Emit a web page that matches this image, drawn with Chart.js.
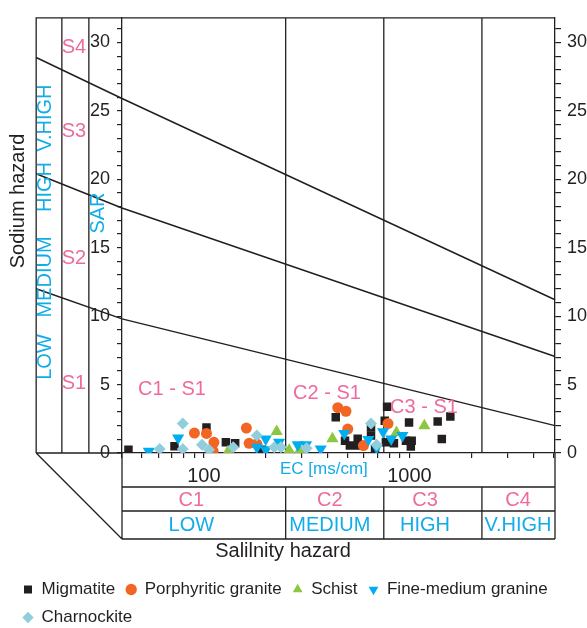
<!DOCTYPE html>
<html>
<head>
<meta charset="utf-8">
<script src="https://cdn.jsdelivr.net/npm/chart.js@4"></script>
<style>
  body { margin: 0; background: #fff; }
  #wrap { width: 587px; height: 628px; }
</style>
</head>
<body>
<div id="wrap"><canvas id="chart"></canvas></div>
<script>
const dark = "#231f20";
const pink = "#ee6b9e";
const cyan = "#12ade8";

// EC (x) and SAR (y)
const migmatiteEC = [43, 72, 103, 128, 142, 192, 438, 486, 513, 560, 563, 650, 650, 680, 758, 778, 768, 840, 961, 995, 1015, 1025, 1371, 1436, 1580];
const migmatiteSAR = [0.23, 0.5, 1.87, 0.78, 0.71, 0.23, 2.62, 0.9, 0.54, 1.05, 0.54, 1.27, 1.87, 0.3, 2.35, 3.38, 0.78, 0.71, 0.9, 2.23, 0.47, 0.9, 2.3, 1.03, 2.66];
const porphyriticEC = [90, 103, 112, 111, 161, 166, 181, 448, 491, 501, 597, 786];
const porphyriticSAR = [1.46, 1.43, 0.78, 0.13, 1.82, 0.71, 0.66, 3.31, 3.05, 1.75, 0.54, 2.15];
const schistEC = [131, 226, 260, 293, 422, 864, 1181];
const schistSAR = [0.1, 1.58, 0.2, 0.2, 1.05, 1.5, 1.99];
const fineEC = [54, 75, 181, 200, 200, 232, 286, 314, 370, 482, 631, 692, 744, 815, 924];
const fineSAR = [0.13, 1.1, 0.42, 1.03, 0.23, 0.78, 0.61, 0.61, 0.3, 1.43, 0.98, 0.4, 1.55, 1.03, 1.27];
const charnEC = [61, 79, 79, 98, 106, 139, 181, 220, 237, 316, 650, 692];
const charnSAR = [0.3, 2.15, 0.3, 0.61, 0.23, 0.42, 1.27, 0.42, 0.42, 0.35, 2.15, 0.61];

// sodium hazard boundary lines: panel edge, EC 40, EC 5100
const lineEC = [15.3, 40, 5100];
const s1s2 = [12.0, 9.8, 2.0];
const s2s3 = [20.4, 17.9, 7.05];
const s3s4 = [28.9, 25.9, 11.2];

// salinity class bounds and x ticks
const ecBounds = [250, 750, 2250];
const ecTicks = [40, 50, 60, 70, 80, 90, 100, 200, 300, 400, 500, 600, 700, 800, 900, 1000, 2000, 3000, 4000, 5000];
const salinityClass = ["C1", "C2", "C3", "C4"];
const salinityName = ["LOW", "MEDIUM", "HIGH", "V.HIGH"];
const salinityLabelEC = [87, 410, 1190, 3370];

const pts = (xs, ys) => xs.map((x, i) => ({ x: x, y: ys[i] }));

function pointSet(label, xs, ys, color, style, radius, order, rot) {
  return {
    label: label,
    data: pts(xs, ys),
    backgroundColor: color,
    borderColor: color,
    borderWidth: 0,
    pointStyle: style,
    pointRadius: radius,
    pointRotation: rot || 0,
    order: order,
  };
}

function boundary(ys) {
  return {
    label: "",
    data: pts(lineEC, ys),
    showLine: true,
    pointRadius: 0,
    borderColor: dark,
    borderWidth: 1.5,
    clip: false,
    order: 20,
  };
}

const decor = {
  id: "decor",
  beforeDatasetsDraw(chart) {
    const { ctx, chartArea: a, scales: { x } } = chart;
    const edge = x.getPixelForValue(lineEC[0]);
    const b = a.bottom;
    ctx.save();
    ctx.strokeStyle = dark;
    ctx.lineWidth = 1.3;
    ctx.beginPath();
    // outer frame and left panel
    ctx.moveTo(edge, b); ctx.lineTo(edge, a.top); ctx.lineTo(a.right, a.top);
    ctx.moveTo(edge, b); ctx.lineTo(a.left, b);
    [20.4, 27.6].forEach(v => {
      const px = x.getPixelForValue(v);
      ctx.moveTo(px, a.top); ctx.lineTo(px, b);
    });
    ctx.moveTo(edge, b); ctx.lineTo(a.left, b + 86);
    // class bounds
    ecBounds.forEach(v => {
      const px = x.getPixelForValue(v);
      ctx.moveTo(px, a.top); ctx.lineTo(px, b);
      ctx.moveTo(px, b + 34); ctx.lineTo(px, b + 86);
    });
    // table
    ctx.moveTo(a.left, b); ctx.lineTo(a.left, b + 86);
    ctx.moveTo(a.right, b); ctx.lineTo(a.right, b + 86);
    [34, 58, 86].forEach(d => {
      ctx.moveTo(a.left, b + d); ctx.lineTo(a.right, b + d);
    });
    ctx.stroke();
    ctx.restore();
  },
  afterDraw(chart) {
    const { ctx, chartArea: a, scales: { x, y } } = chart;
    const b = a.bottom;
    ctx.save();
    ctx.textAlign = "center";
    ctx.textBaseline = "middle";
    const font = s => s + "px 'Liberation Sans', Arial, sans-serif";
    const txt = (t, px, py, color, size, rot) => {
      ctx.save();
      ctx.translate(px, py);
      if (rot) ctx.rotate(rot);
      ctx.fillStyle = color;
      ctx.font = font(size);
      ctx.fillText(t, 0, 0);
      ctx.restore();
    };
    const up = -Math.PI / 2;
    txt("Sodium hazard", 18, 201, dark, 20, up);
    txt("LOW", 45, 357, cyan, 20, up);
    txt("MEDIUM", 45, 277, cyan, 20, up);
    txt("HIGH", 45, 187, cyan, 20, up);
    txt("V.HIGH", 45, 118, cyan, 20, up);
    txt("SAR", 98, 213, cyan, 20, up);
    txt("S4", 74, y.getPixelForValue(29.6), pink, 20);
    txt("S3", 74, y.getPixelForValue(23.5), pink, 20);
    txt("S2", 74, y.getPixelForValue(14.2), pink, 20);
    txt("S1", 74, y.getPixelForValue(5.1), pink, 20);
    txt("C1 - S1", x.getPixelForValue(70), y.getPixelForValue(4.65), pink, 20);
    txt("C2 - S1", x.getPixelForValue(397), y.getPixelForValue(4.37), pink, 20);
    txt("C3 - S1", x.getPixelForValue(1176), y.getPixelForValue(3.36), pink, 20);
    txt("EC [ms/cm]", x.getPixelForValue(600) - 40, b + 16, cyan, 17);
    salinityClass.forEach((c, i) => {
      const px = x.getPixelForValue(salinityLabelEC[i]);
      txt(c, px, b + 47, pink, 20);
      txt(salinityName[i], px, b + 72, cyan, 20);
    });
    txt("Salilnity hazard", 283, b + 98, dark, 20);
    ctx.restore();
  },
};

Chart.defaults.font.family = "'Liberation Sans', Arial, sans-serif";
Chart.defaults.color = dark;

const ctx = document.getElementById("chart");
window.wilcoxChart = new Chart(ctx, {
  type: "scatter",
  data: {
    datasets: [
      pointSet("Migmatite", migmatiteEC, migmatiteSAR, dark, "rect", 6, 5),
      pointSet("Porphyritic granite", porphyriticEC, porphyriticSAR, "#f26522", "circle", 5.5, 4),
      pointSet("Schist", schistEC, schistSAR, "#8dc63f", "triangle", 7, 3),
      pointSet("Fine-medium granine", fineEC, fineSAR, "#00aeef", "triangle", 7, 2, 180),
      pointSet("Charnockite", charnEC, charnSAR, "#92cddc", "rectRot", 6, 1),
      boundary(s1s2),
      boundary(s2s3),
      boundary(s3s4),
    ],
  },
  options: {
    responsive: true,
    maintainAspectRatio: false,
    animation: false,
    layout: { padding: { left: 12, right: 0, top: 12, bottom: -8 } },
    plugins: {
      tooltip: { enabled: false },
      legend: {
        position: "bottom",
        align: "start",
        labels: {
          usePointStyle: true,
          boxWidth: 10,
          boxHeight: 8,
          padding: 11,
          color: dark,
          font: { size: 17 },
          filter: item => item.text !== "",
          sort: (p, q) => p.datasetIndex - q.datasetIndex,
        },
      },
    },
    scales: {
      x: {
        type: "logarithmic",
        min: 40,
        max: 5100,
        afterBuildTicks: s => { s.ticks = ecTicks.map(v => ({ value: v })); },
        afterFit: s => { s.height = 117; },
        ticks: {
          autoSkip: false,
          maxRotation: 0,
          padding: 6,
          font: { size: 20 },
          color: dark,
          callback: v => (v === 100 || v === 1000 ? String(v) : ""),
        },
        grid: { drawOnChartArea: false, tickLength: 5, color: dark, lineWidth: 1.2 },
        border: { color: dark, width: 1.3 },
      },
      y: {
        position: "left",
        min: 0,
        max: 31.8,
        afterFit: s => { s.width = 110; },
        ticks: {
          stepSize: 1,
          autoSkip: false,
          includeBounds: false,
          padding: 7,
          font: { size: 18 },
          color: dark,
          callback: v => (v % 5 === 0 ? v : ""),
        },
        grid: { drawOnChartArea: false, tickLength: 5, color: dark, lineWidth: 1.2 },
        border: { color: dark, width: 1.3 },
      },
      y2: {
        position: "right",
        min: 0,
        max: 31.8,
        afterFit: s => { s.width = 32; },
        ticks: {
          stepSize: 1,
          autoSkip: false,
          includeBounds: false,
          padding: 6,
          font: { size: 18 },
          color: dark,
          callback: v => (v % 5 === 0 ? v : ""),
        },
        grid: { drawOnChartArea: false, tickLength: 6, color: dark, lineWidth: 1.2 },
        border: { color: dark, width: 1.3 },
      },
    },
  },
  plugins: [decor],
});
</script>
</body>
</html>
